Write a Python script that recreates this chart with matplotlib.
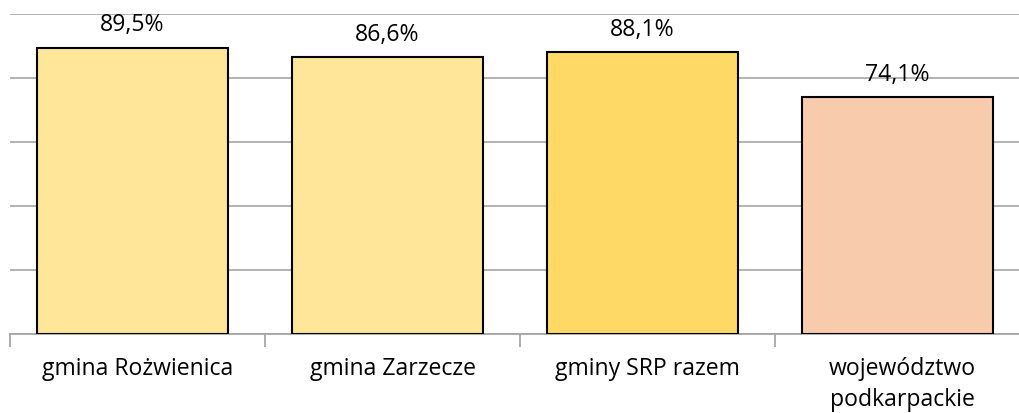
import matplotlib
matplotlib.use("Agg")
import matplotlib.pyplot as plt
import numpy as np

categories = ["gmina Rożwienica", "gmina Zarzecze", "gminy SRP razem", "województwo\npodkarpackie"]
values = [89.5, 86.6, 88.1, 74.1]
colors = ["#FFE699", "#FFE699", "#FFD966", "#F8CBAD"]

plt.rcParams['font.family'] = ['Open Sans', 'DejaVu Sans']

fig = plt.figure(figsize=(10.19, 4.14), dpi=100)
ax = fig.add_axes([10 / 1019, 79 / 414, 1020 / 1019, 320 / 414])

x = np.arange(len(categories))
ax.bar(x - 0.02, values, width=0.75, color=colors, edgecolor="black", linewidth=1.5, zorder=3)

for xi, v in zip(x, values):
    ax.text(xi - 0.02, v + 5.4, f"{v:.1f}%".replace(".", ","), ha="center", va="baseline",
            fontsize=16.6, color="#000000")

ax.set_xlim(-0.5, len(categories) - 0.5)
ax.set_ylim(0, 100)
ax.set_yticks(np.arange(0, 101, 20))
ax.yaxis.grid(True, color="#A6A6A6", linewidth=1.2, zorder=0)
ax.tick_params(axis="y", left=False, labelleft=False)

ax.set_xticks(np.arange(-0.5, len(categories), 1.0))
ax.set_xticklabels([])
ax.tick_params(axis="x", which="major", length=9, width=1.3, color="#A6A6A6", direction="out")
ax.set_xticks(x, minor=True)
ax.set_xticklabels(categories, minor=True, fontsize=16.6, linespacing=1.38)
ax.tick_params(axis="x", which="minor", length=0, pad=16)

for s in ["top", "right", "left"]:
    ax.spines[s].set_visible(False)
ax.spines["bottom"].set_color("#A6A6A6")
ax.spines["bottom"].set_linewidth(1.3)

fig.savefig("out.png", dpi=100)
